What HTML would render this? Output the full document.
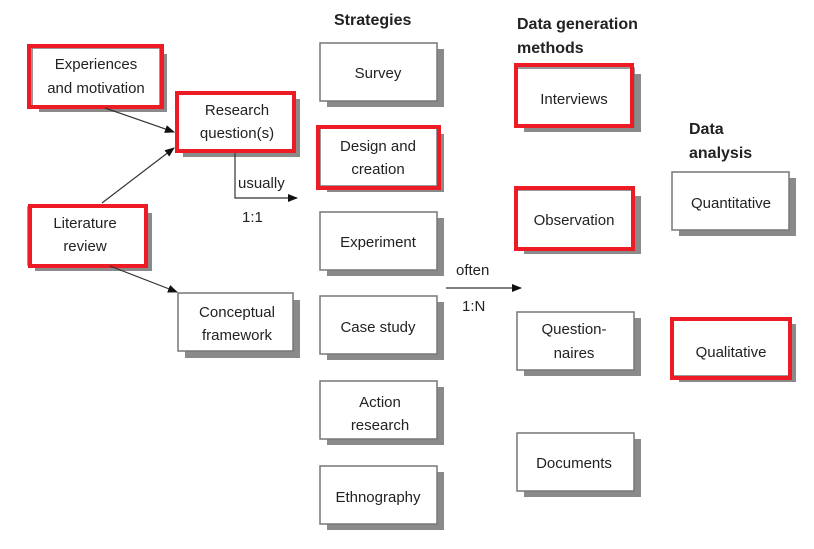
<!DOCTYPE html>
<html><head><style>
html,body{margin:0;padding:0;background:#fff;}
svg{display:block;}
text{font-family:"Liberation Sans",sans-serif;fill:#222;}
</style></head><body>
<svg width="814" height="549" viewBox="0 0 814 549" xmlns="http://www.w3.org/2000/svg">
<defs><marker id="a" markerWidth="10" markerHeight="8" refX="9" refY="4" orient="auto" markerUnits="userSpaceOnUse"><path d="M0,0 L10,4 L0,8 z" fill="#111"/></marker></defs>
<g fill="#8a8a8a">
<rect x="39" y="54" width="128" height="58"/>
<rect x="183" y="99" width="117" height="58"/>
<rect x="35" y="213" width="117" height="58"/>
<rect x="185" y="300" width="115" height="58"/>
<rect x="327" y="49" width="117" height="58"/>
<rect x="327" y="134" width="117" height="58"/>
<rect x="327" y="218" width="117" height="58"/>
<rect x="327" y="302" width="117" height="58"/>
<rect x="327" y="387" width="117" height="58"/>
<rect x="327" y="472" width="117" height="58"/>
<rect x="524" y="74" width="117" height="58"/>
<rect x="524" y="196" width="117" height="58"/>
<rect x="524" y="318" width="117" height="58"/>
<rect x="524" y="439" width="117" height="58"/>
<rect x="679" y="178" width="117" height="58"/>
<rect x="679" y="324" width="117" height="58"/>
</g>
<g fill="#fff" stroke="#777" stroke-width="1.5">
<rect x="32" y="48" width="128" height="58"/>
<rect x="176" y="93" width="117" height="58"/>
<rect x="28" y="207" width="117" height="58"/>
<rect x="178" y="293" width="115" height="58"/>
<rect x="320" y="43" width="117" height="58"/>
<rect x="320" y="128" width="117" height="58"/>
<rect x="320" y="212" width="117" height="58"/>
<rect x="320" y="296" width="117" height="58"/>
<rect x="320" y="381" width="117" height="58"/>
<rect x="320" y="466" width="117" height="58"/>
<rect x="517" y="68" width="117" height="58"/>
<rect x="517" y="190" width="117" height="58"/>
<rect x="517" y="312" width="117" height="58"/>
<rect x="517" y="433" width="117" height="58"/>
<rect x="672" y="172" width="117" height="58"/>
<rect x="672" y="318" width="117" height="58"/>
</g>
<g fill="none" stroke="#ed1c24" stroke-width="4">
<rect x="29" y="46" width="133" height="61"/>
<rect x="177" y="93" width="117" height="58"/>
<rect x="30" y="206" width="116" height="60"/>
<rect x="318" y="127" width="121" height="61"/>
<rect x="516" y="65" width="116" height="61"/>
<rect x="516" y="188" width="117" height="61"/>
<rect x="672" y="319" width="118" height="59"/>
</g>
<g stroke="#333" stroke-width="1.2" fill="none">
<line x1="105" y1="108" x2="174" y2="132" marker-end="url(#a)"/>
<line x1="102" y1="203" x2="174" y2="148" marker-end="url(#a)"/>
<line x1="110" y1="266" x2="177" y2="292" marker-end="url(#a)"/>
<polyline points="235,153 235,198 297,198" marker-end="url(#a)"/>
<line x1="446" y1="288" x2="521" y2="288" marker-end="url(#a)"/>
</g>
<g font-size="15" text-anchor="middle">
<text x="96" y="69">Experiences</text><text x="96" y="93">and motivation</text>
<text x="237" y="115">Research</text><text x="237" y="138">question(s)</text>
<text x="85" y="228">Literature</text><text x="85" y="251">review</text>
<text x="237" y="317">Conceptual</text><text x="237" y="340">framework</text>
<text x="378" y="78">Survey</text>
<text x="378" y="151">Design and</text><text x="378" y="174">creation</text>
<text x="378" y="247">Experiment</text>
<text x="378" y="332">Case study</text>
<text x="380" y="407">Action</text><text x="380" y="430">research</text>
<text x="378" y="502">Ethnography</text>
<text x="574" y="104">Interviews</text>
<text x="574" y="225">Observation</text>
<text x="574" y="334">Question-</text><text x="574" y="358">naires</text>
<text x="574" y="468">Documents</text>
<text x="731" y="208">Quantitative</text>
<text x="731" y="357">Qualitative</text>
</g>
<g font-size="15">
<text x="238" y="188">usually</text>
<text x="242" y="222">1:1</text>
<text x="456" y="275">often</text>
<text x="462" y="311">1:N</text>
</g>
<g font-size="16" font-weight="bold">
<text x="334" y="25">Strategies</text>
<text x="517" y="29">Data generation</text>
<text x="517" y="53">methods</text>
<text x="689" y="134">Data</text>
<text x="689" y="158">analysis</text>
</g>
</svg>
</body></html>
